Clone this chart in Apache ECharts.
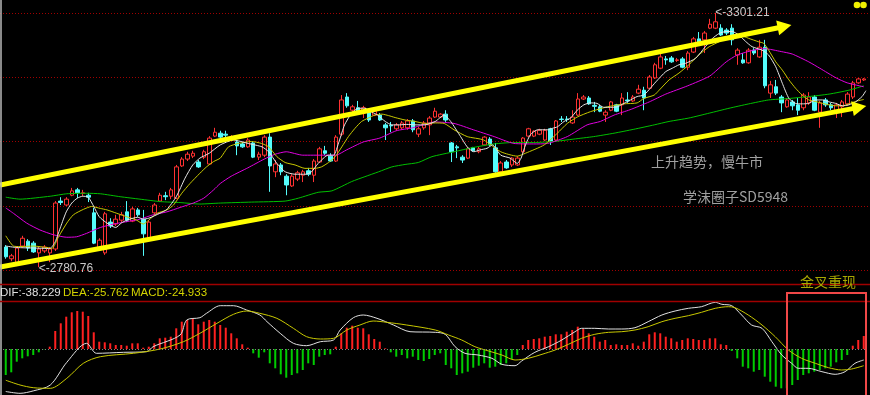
<!DOCTYPE html>
<html><head><meta charset="utf-8">
<script src="https://cdn.jsdelivr.net/npm/echarts/dist/echarts.min.js"></script>
<style>html,body{margin:0;padding:0;background:#000;}#c{width:870px;height:395px;}</style>
</head><body><div id="c"></div>
<script>
const opens=[2822,2798,2789,2824,2834,2830,2810,2814,2810,2818,
2916,2908,2928,2939,2932,2928,2892,2820,2810,2873,
2869,2877,2894,2875,2898,2879,2838,2892,2916,2927,
2926,2922,2988,3002,3008,2996,3006,2992,3049,3055,
3053,3043,3037,3033,3027,3035,3006,3010,3047,2976,
2990,2967,2947,2961,2969,2978,2969,2996,3019,3008,
2998,3053,3129,3102,3107,3098,3098,3092,3092,3072,
3071,3064,3066,3066,3080,3053,3066,3072,3088,3088,
3094,3035,3027,3006,3004,3025,3017,3031,3043,3025,
2976,2996,2990,2990,3017,3049,3049,3053,3041,3064,
3041,3084,3084,3076,3092,3125,3127,3112,3109,3092,
3102,3113,3113,3123,3121,3137,3143,3147,3168,3188,
3207,3209,3204,3207,3190,3221,3248,3246,3270,3270,
3270,3266,3270,3215,3205,3199,3225,3211,3231,3137,
3150,3129,3109,3119,3113,3107,3117,3129,3098,3123,
3113,3102,3109,3115,3129,3158,3164];
const closes=[2802,2804,2820,2840,2820,2812,2818,2822,2818,2912,
2913,2920,2937,2933,2933,2924,2830,2836,2890,2865,
2879,2888,2877,2900,2888,2849,2873,2908,2928,2925,
2939,2986,3002,3012,3014,2986,3017,3045,3057,3047,
3051,3047,3029,3027,3041,3006,3012,3047,2988,2992,
2976,2949,2967,2974,2976,2971,2998,3023,3014,2998,
3047,3123,3111,3109,3100,3107,3082,3100,3082,3066,
3070,3072,3076,3080,3062,3064,3076,3086,3100,3094,
3082,3017,3025,3000,3023,3019,3023,3047,3031,2976,
2994,2984,3004,3004,3045,3064,3059,3061,3061,3039,
3080,3083,3083,3088,3125,3129,3115,3110,3100,3098,
3119,3100,3127,3121,3129,3145,3127,3170,3195,3211,
3205,3201,3205,3190,3219,3248,3240,3260,3278,3283,
3256,3260,3246,3225,3199,3225,3219,3231,3152,3154,
3137,3117,3123,3111,3102,3133,3129,3102,3117,3113,
3107,3113,3119,3135,3158,3166,3166];
const lows=[2798,2793,2783,2820,2814,2810,2780.76,2810,2791,2814,
2908,2906,2926,2922,2926,2914,2828,2816,2806,2861,
2865,2873,2873,2873,2884,2804,2836,2888,2914,2918,
2920,2920,2986,2998,3004,2984,3002,2990,3047,3045,
3045,3041,3010,3025,3025,3004,3000,3006,2935,2965,
2969,2928,2945,2957,2955,2967,2955,2994,3010,2996,
2996,3049,3107,3098,3098,3086,3078,3090,3080,3041,
3057,3060,3062,3062,3057,3047,3062,3051,3086,3086,
3078,2996,3004,2994,3002,3017,3014,3029,3029,2974,
2974,2982,2986,2988,3014,3047,3047,3051,3039,3031,
3039,3078,3078,3074,3090,3123,3113,3098,3098,3078,
3100,3098,3092,3117,3119,3135,3102,3145,3166,3186,
3195,3199,3201,3188,3184,3219,3237,3219,3268,3268,
3254,3256,3235,3195,3197,3197,3215,3209,3147,3127,
3133,3098,3107,3102,3092,3102,3113,3100,3066,3109,
3102,3086,3088,3111,3125,3156,3162];
const highs=[2826,2808,2824,2845,2838,2834,2822,2826,2822,2916,
2924,2924,2943,2943,2939,2933,2902,2840,2894,2881,
2888,2894,2916,2904,2902,2898,2877,2912,2933,2935,
2943,2990,3006,3017,3019,3000,3021,3049,3066,3060,
3060,3051,3041,3037,3045,3039,3017,3051,3055,3000,
2994,2971,2971,2978,2980,2984,3002,3027,3029,3014,
3051,3133,3137,3113,3121,3111,3102,3105,3096,3076,
3078,3076,3080,3084,3084,3068,3080,3090,3107,3096,
3102,3037,3031,3010,3027,3027,3027,3049,3047,3035,
2998,3000,3006,3008,3047,3066,3061,3064,3064,3066,
3082,3090,3090,3102,3137,3133,3131,3119,3113,3102,
3121,3115,3137,3139,3133,3154,3150,3174,3199,3219,
3213,3213,3209,3211,3223,3252,3262,3264,3289,3301.21,
3278,3270,3278,3229,3219,3229,3229,3246,3246,3162,
3164,3133,3127,3123,3127,3137,3139,3133,3121,3127,
3117,3117,3123,3139,3162,3168,3168];

const macd=[-41.6,-37.3,-20.3,-14.9,-11.7,-9.6,-5.3,-0.5,3.7,28.8,
41.1,51.7,58.7,60.8,59.7,52.8,26.7,11.7,10.7,9.1,
6.4,6.4,5.3,9.1,9.1,2.1,3.7,9.1,17.1,18.1,
19.7,33.1,43.7,46.4,49.1,39.5,43.7,46.4,43.7,38.4,
34.1,25.1,17.1,7.5,2.1,-6.9,-13.9,-5.3,-22.9,-30.9,
-40.5,-45.9,-41.6,-38.9,-33.6,-22.9,-25.6,-12.3,-9.6,-8.5,
3.7,25.1,34.1,37.3,34.1,33.1,23.5,16.0,11.7,1.1,
-5.3,-12.3,-9.6,-14.9,-12.3,-17.6,-19.2,-16.0,-9.6,-6.9,
-25.6,-30.9,-41.6,-38.9,-36.3,-29.9,-26.7,-22.9,-29.9,-28.3,
-25.6,-22.9,-16.0,-9.6,6.4,14.4,16.0,17.1,19.7,20.8,
23.5,23.5,27.7,30.4,35.7,32.0,25.1,19.7,11.7,14.4,
6.4,7.5,6.4,6.4,9.1,5.3,11.7,23.5,26.7,25.1,
19.7,17.1,11.7,14.4,17.1,16.0,14.4,14.4,17.1,17.1,
7.5,6.4,-3.2,-14.9,-28.3,-30.9,-36.3,-33.6,-44.3,-52.3,
-60.3,-62.9,-62.9,-57.6,-49.6,-41.6,-38.9,-36.3,-33.6,-30.9,
-28.3,-21.3,-17.6,-9.6,5.3,14.4,20.8];

const ma5=[[0,2824],[2,2821],[5,2820],[8,2819],[9,2833],[10,2864],[11,2894],[12,2912],[13,2922],[14,2926],[15,2924],[16,2905],[17,2884],[18.4,2871],[20,2862],[21,2871],[22,2877],[24,2883],[25,2879],[26,2881],[28,2891],[29.3,2899],[31,2925],[32.6,2963],[34,2990],[35.3,3004],[37,3014],[39,3031],
[41.4,3041],[44.1,3034],[46.6,3027],[47.8,3017],[49.3,2993],[50.8,2976],[52.6,2971],[54.6,2971],[55.6,2976],[56.8,2993],[58.6,3010],[59.6,3010],[60.6,3038],[61.6,3072],[62.9,3096],[64.1,3106],[65.3,3106],[66.6,3098],[67.6,3092],[69,3079],[70.2,3072],[71.6,3072],[72.9,3073],[74.6,3072],[76.2,3072],[78.1,3079],
[79.7,3092],[80.9,3079],[82.7,3048],[83.9,3027],[85.1,3017],[86.3,3021],[87.5,3024],[88.5,3031],[90,3010],[91.7,3004],[93,2993],[93.7,3004],[94.5,3031],[95.4,3052],[96.7,3062],[98.5,3062],[99.4,3065],[100.3,3068],[101.5,3079],[102.7,3086],[103.9,3102],[105.1,3113],[106.3,3117],[107.5,3116],[108.7,3108],[110,3108],[111.2,3109],[112.4,3116],[113.6,3123],[114.8,3130],[116,3133],[117.2,3147],
[118.2,3160],[120,3181],[121.2,3188],[122.4,3195],[123.6,3198],[125.4,3208],[127.2,3232],[128.5,3249],[129.7,3259],[130.9,3263],[132.1,3263],[133.3,3256],[134.5,3243],[135.7,3232],[137.5,3225],[138.7,3215],[140,3191],[141.2,3157],[142.4,3126],[143.6,3116],[144.8,3115],[146,3116],[147.2,3123],[148.5,3123],[149.7,3119],[150.9,3116],[152.1,3111],[153.3,3113],[154.5,3119],[155.7,3130],[156.4,3142]];
const ma10=[[0,2845],[1.4,2824],[2.6,2823],[5,2824],[7.5,2821],[8.4,2819],[9.6,2843],[11.1,2871],[12.3,2888],[14.1,2899],[15.6,2905],[17.2,2901],[18.4,2898],[20.2,2891],[22,2884],[23.8,2877],[25,2869],[26,2877],[27.5,2891],[29.3,2898],[30.5,2908],[32,2932],[33.5,2952],[35.3,2973],[36.5,2986],[37.8,2997],[39,3004],
[40.5,3027],[42.3,3034],[44.7,3038],[46.5,3034],[47.8,3027],[49.3,3007],[50.8,2995],[52.6,2990],[54.4,2983],[56.2,2983],[57.4,2986],[58.7,2995],[59.9,3007],[61.1,3027],[62.3,3048],[63.5,3065],[64.7,3079],[65.9,3086],[67.1,3092],[68.4,3094],[69.6,3091],[70.8,3087],[72.6,3082],[74.4,3079],[76.2,3075],[78.1,3076],
[79.7,3075],[81.5,3062],[83.9,3048],[86.9,3041],[90,3017],[93,3008],[94.5,3014],[97.9,3031],[100.3,3055],[102.1,3075],[103.9,3088],[106.3,3099],[109.4,3109],[112.4,3115],[114.8,3117],[116,3126],[117.9,3133],
[118.8,3143],[120.6,3164],[122.4,3178],[124.2,3195],[126,3215],[127.9,3232],[129.7,3242],[131.5,3253],[133.3,3256],[135.1,3249],[136.9,3242],[137.8,3239],[138.7,3225],[140,3201],[141.2,3184],[142.4,3164],[143.6,3147],[144.8,3133],[146,3123],[147.2,3120],[148.5,3116],[149.7,3113],[150.9,3111],[152.1,3111],[153.3,3115],[154.5,3120],[156,3124]];
const ma20=[[0,2902],[1.4,2891],[3.8,2871],[6.2,2857],[8.7,2847],[11.1,2842],[12.9,2843],[14.7,2850],[17.2,2862],[19.6,2869],[22,2874],[24.4,2879],[26.8,2888],[29.3,2894],[31.7,2903],[34.1,2912],[36,2922],[37.8,2939],[39,2952],
[41,2967],[44,2984],[47,3002],[49,3012],[51,3017],[54,3010],[58,3010],[60,3010],[62,3021],[65,3037],[68,3045],[71,3060],[74,3066],[78,3078],[81.5,3075],[85,3062],[88.8,3048],[92.4,3034],[96,3033],[98.5,3034],[102.1,3048],[105.7,3072],[108.1,3079],[110.6,3092],[113.5,3103],[117,3119],[120,3135],[124,3152],[128,3172],[131,3201],[133,3215],[136,3225],[138,3228],[141,3222],[143,3217],[146,3201],[148,3188],[151,3168],[153,3158],[156,3150]];
const ma60=[[0,2924],[2.6,2920],[8.1,2926],[11.1,2931],[14.7,2932],[17.2,2931],[20.8,2925],[24.4,2920],[28.1,2915],[31.7,2913],[35.3,2910],[39,2912],[44.7,2914],[50.8,2916],[53.2,2922],[56.8,2934],[59.3,2937],[62.9,2956],[65.3,2966],[67.8,2976],[70.2,2986],[72.6,2991],[75,2995],[77.5,3007],[81.5,3017],[85.1,3026],[88.8,3033],[92.4,3036],[96,3036],[99.7,3038],[103.3,3043],[106.9,3048],[110.6,3055],[114.2,3063],[117.9,3072],[120.6,3079],[124.2,3086],[127.9,3096],[131.5,3106],[135.1,3115],[138.7,3123],[142.4,3126],[146,3130],[149.7,3135],[153.3,3143],[156,3152]];

const dif=[[0,-68],[2.6,-70.9],[5,-67],[8.1,-57.6],[11.1,-21.3],[14.7,9.1],[16.5,-6.9],[21.4,-5.3],[25.6,-4.3],[26.8,3.7],[31.7,22.4],[32.9,46.4],[35.3,50.1],[36.5,57.1],[39,69.3],[41.4,69.3],[43.8,62.4],[46.2,54.4],[47.5,43.7],[49.9,25.1],[52.3,9.1],[54.7,5.3],[57.2,11.7],[59.6,14.4],[60.8,30.4],[63.2,50.1],[65,54.4],[67.5,49.1],[70.5,38.4],[73.5,27.7],[78.1,26.7],[79.9,23.5],[81.7,3.7],[83.5,-6.9],[85.9,-9.6],[88.4,-14.9],[90.2,-24.5],[92.6,-26.7],[93.8,-19.2],[96.2,-5.3],[98.7,3.7],[101.1,14.4],[103.5,27.7],[104.7,33.1],[107.1,33.1],[109.6,32.0],[112,32.0],[114.4,34.1],[116.8,43.7],[119.3,54.4],[121.7,60.8],[124.1,65.1],[126.5,67.7],[129,74.7],[130.2,71.5],[132,69.3],[133.8,54.4],[135.6,38.4],[137.5,33.1],[139.3,11.7],[141.1,-9.6],[142.9,-22.9],[144.1,-30.9],[145.9,-30.9],[148.4,-36.3],[150.8,-40.5],[152.6,-36.3],[154.4,-22.9],[156,-17.6]];
const dea=[[0,-50],[2.6,-57.6],[5,-61.9],[8.1,-62.9],[11.1,-46.9],[14.1,-22.9],[17.2,-12.3],[23.2,-6.9],[28.1,0],[32.3,11.7],[35.3,25.1],[38.4,41.1],[41.4,55.5],[43.8,60.8],[46.2,57.1],[49.3,49.1],[52.3,33.1],[54.7,19.7],[57.2,16.0],[59.6,17.1],[62,30.4],[64.4,38.4],[66.8,44.8],[69.3,42.7],[72.9,38.4],[78.1,30.4],[80.5,22.4],[82.9,14.4],[85.3,3.7],[87.8,-3.2],[90.2,-9.6],[92.6,-17.6],[95,-14.9],[97.5,-8.5],[99.9,-1.6],[102.3,7.5],[104.7,17.1],[107.1,23.5],[109.6,26.7],[112,27.7],[114.4,30.4],[116.8,35.7],[119.3,43.7],[121.7,49.1],[124.1,53.3],[126.5,58.7],[129,65.1],[131.4,67.7],[132.6,66.1],[135,54.4],[137.5,38.4],[139.9,19.7],[142.3,-1.6],[144.7,-14.9],[147.2,-22.9],[149.6,-29.9],[152,-33.6],[153.8,-32.0],[156,-26.7]];

const upperTrend=[[-1.03,2949],[141.6,3273.4]];
const lowerTrend=[[-1.03,2781.1],[155.2,3107.8]];
const highMark={index:129,value:3301.21};
const lowMark={index:6,value:2780.76};
const indicatorTexts=['DIF:-38.229','DEA:-25.762','MACD:-24.933'];
const noteTexts=['上升趋势，慢牛市','学沫圈子SD5948','金叉重现'];

const N=opens.length;
const categories=opens.map((_,i)=>String(i+1));
const kData=opens.map((o,i)=>[o,closes[i],lows[i],highs[i]]);
const FONT='"Liberation Sans", Arial, sans-serif';
const CJK='"Noto Sans CJK SC", sans-serif';

function maSeries(d,color){
  return {type:'line',xAxisIndex:1,yAxisIndex:0,data:d,symbol:'none',smooth:0.2,silent:true,z:4,
    lineStyle:{color:color,width:1}};
}
function trendSeries(pts,rot){
  return {type:'line',xAxisIndex:1,yAxisIndex:0,clip:false,silent:true,z:6,symbol:'none',showSymbol:true,
    lineStyle:{color:'#ffff00',width:5},itemStyle:{color:'#ffff00'},
    data:[pts[0],{value:pts[1],symbol:'triangle',symbolSize:[15,14],symbolRotate:rot}]};
}

const chart=echarts.init(document.getElementById('c'));
chart.setOption({
  backgroundColor:'#000000',
  animation:false,
  grid:[
    {left:3,right:3.5,top:12.5,height:257.5},
    {left:3,right:3.5,top:302,bottom:0},
    {left:0,right:0,top:13,height:257}
  ],
  xAxis:[
    {type:'category',gridIndex:0,data:categories,boundaryGap:true,show:false},
    {type:'value',gridIndex:0,min:-0.5,max:N-0.5,show:false},
    {type:'category',gridIndex:1,data:categories,boundaryGap:true,show:false},
    {type:'value',gridIndex:1,min:-0.5,max:N-0.5,show:false},
    {type:'value',gridIndex:2,min:0,max:1,show:false}
  ],
  yAxis:[
    {type:'value',gridIndex:0,min:2775,max:3302,show:false},
    {type:'value',gridIndex:1,min:-73.6,max:75.2,show:false},
    {type:'value',gridIndex:2,min:0,max:4,interval:1,axisLine:{show:false},axisTick:{show:false},axisLabel:{show:false},
     splitLine:{show:true,lineStyle:{color:'#a00000',type:[1,2],width:1}}}
  ],
  series:[
    {type:'candlestick',xAxisIndex:0,yAxisIndex:0,data:kData,barWidth:4,clip:false,silent:true,z:3,
     itemStyle:{color:'transparent',color0:'#54fcfc',borderColor:'#ff3232',borderColor0:'#54fcfc',borderWidth:1},
     markPoint:{symbol:'circle',symbolSize:0.1,silent:true,
       label:{show:true,position:'right',distance:0,color:'#c8c8c8',fontSize:12,fontFamily:FONT},
       data:[
         {coord:[highMark.index,highMark.value],label:{formatter:'<-'+highMark.value.toFixed(2)}},
         {coord:[lowMark.index,lowMark.value],label:{formatter:'<-'+lowMark.value.toFixed(2),offset:[0,2]}}
       ]}},
    maSeries(ma60,'#00c000'),
    maSeries(ma20,'#e000e0'),
    maSeries(ma10,'#c8c800'),
    maSeries(ma5,'#e6e6e6'),
    trendSeries(upperTrend,-78.6),
    trendSeries(lowerTrend,-79.5),
    {type:'bar',xAxisIndex:2,yAxisIndex:1,data:macd,barWidth:2,silent:true,z:2,
     itemStyle:{color:function(p){return p.value>=0?'#ff2020':'#00cc00';}},
     markLine:{silent:true,symbol:'none',label:{show:false},lineStyle:{color:'#808080',type:[1,2],width:1},data:[{yAxis:0}]}},
    {type:'line',xAxisIndex:3,yAxisIndex:1,data:dif,symbol:'none',smooth:0.3,silent:true,z:4,lineStyle:{color:'#e0e0e0',width:1}},
    {type:'line',xAxisIndex:3,yAxisIndex:1,data:dea,symbol:'none',smooth:0.3,silent:true,z:4,lineStyle:{color:'#c8c800',width:1}}
  ],
  graphic:[
    {type:'line',z:10,shape:{x1:1,y1:0,x2:1,y2:395},style:{stroke:'#b8b8b8',lineWidth:1.5}},
    {type:'line',z:10,shape:{x1:0,y1:284.5,x2:870,y2:284.5},style:{stroke:'#a00000',lineWidth:1.5}},
    {type:'line',z:10,shape:{x1:0,y1:301.5,x2:870,y2:301.5},style:{stroke:'#a00000',lineWidth:1.5}},
    {type:'text',z:11,x:0,y:293,style:{text:indicatorTexts[0],fill:'#e0e0e0',font:'11.5px '+FONT,verticalAlign:'middle'}},
    {type:'text',z:11,x:63,y:293,style:{text:indicatorTexts[1],fill:'#d4d400',font:'11.5px '+FONT,verticalAlign:'middle'}},
    {type:'text',z:11,x:131,y:293,style:{text:indicatorTexts[2],fill:'#d4d400',font:'11.5px '+FONT,verticalAlign:'middle'}},
    {type:'text',z:11,x:651,y:161.5,style:{text:noteTexts[0],fill:'#a0a0a0',font:'14px '+CJK,verticalAlign:'middle'}},
    {type:'text',z:11,x:683,y:196.5,style:{text:noteTexts[1],fill:'#a0a0a0',font:'14px '+CJK,verticalAlign:'middle'}},
    {type:'text',z:11,x:800,y:282,style:{text:noteTexts[2],fill:'#a8a800',font:'14px '+CJK,verticalAlign:'middle'}},
    {type:'rect',z:12,shape:{x:787,y:293,width:79,height:110},style:{fill:'none',stroke:'#f04848',lineWidth:2}},
    {type:'circle',z:12,shape:{cx:857,cy:5,r:3.3},style:{fill:'#f0f000'}},
    {type:'circle',z:12,shape:{cx:863.5,cy:5,r:3.3},style:{fill:'#f0f000'}}
  ]
});
</script>
</body></html>
